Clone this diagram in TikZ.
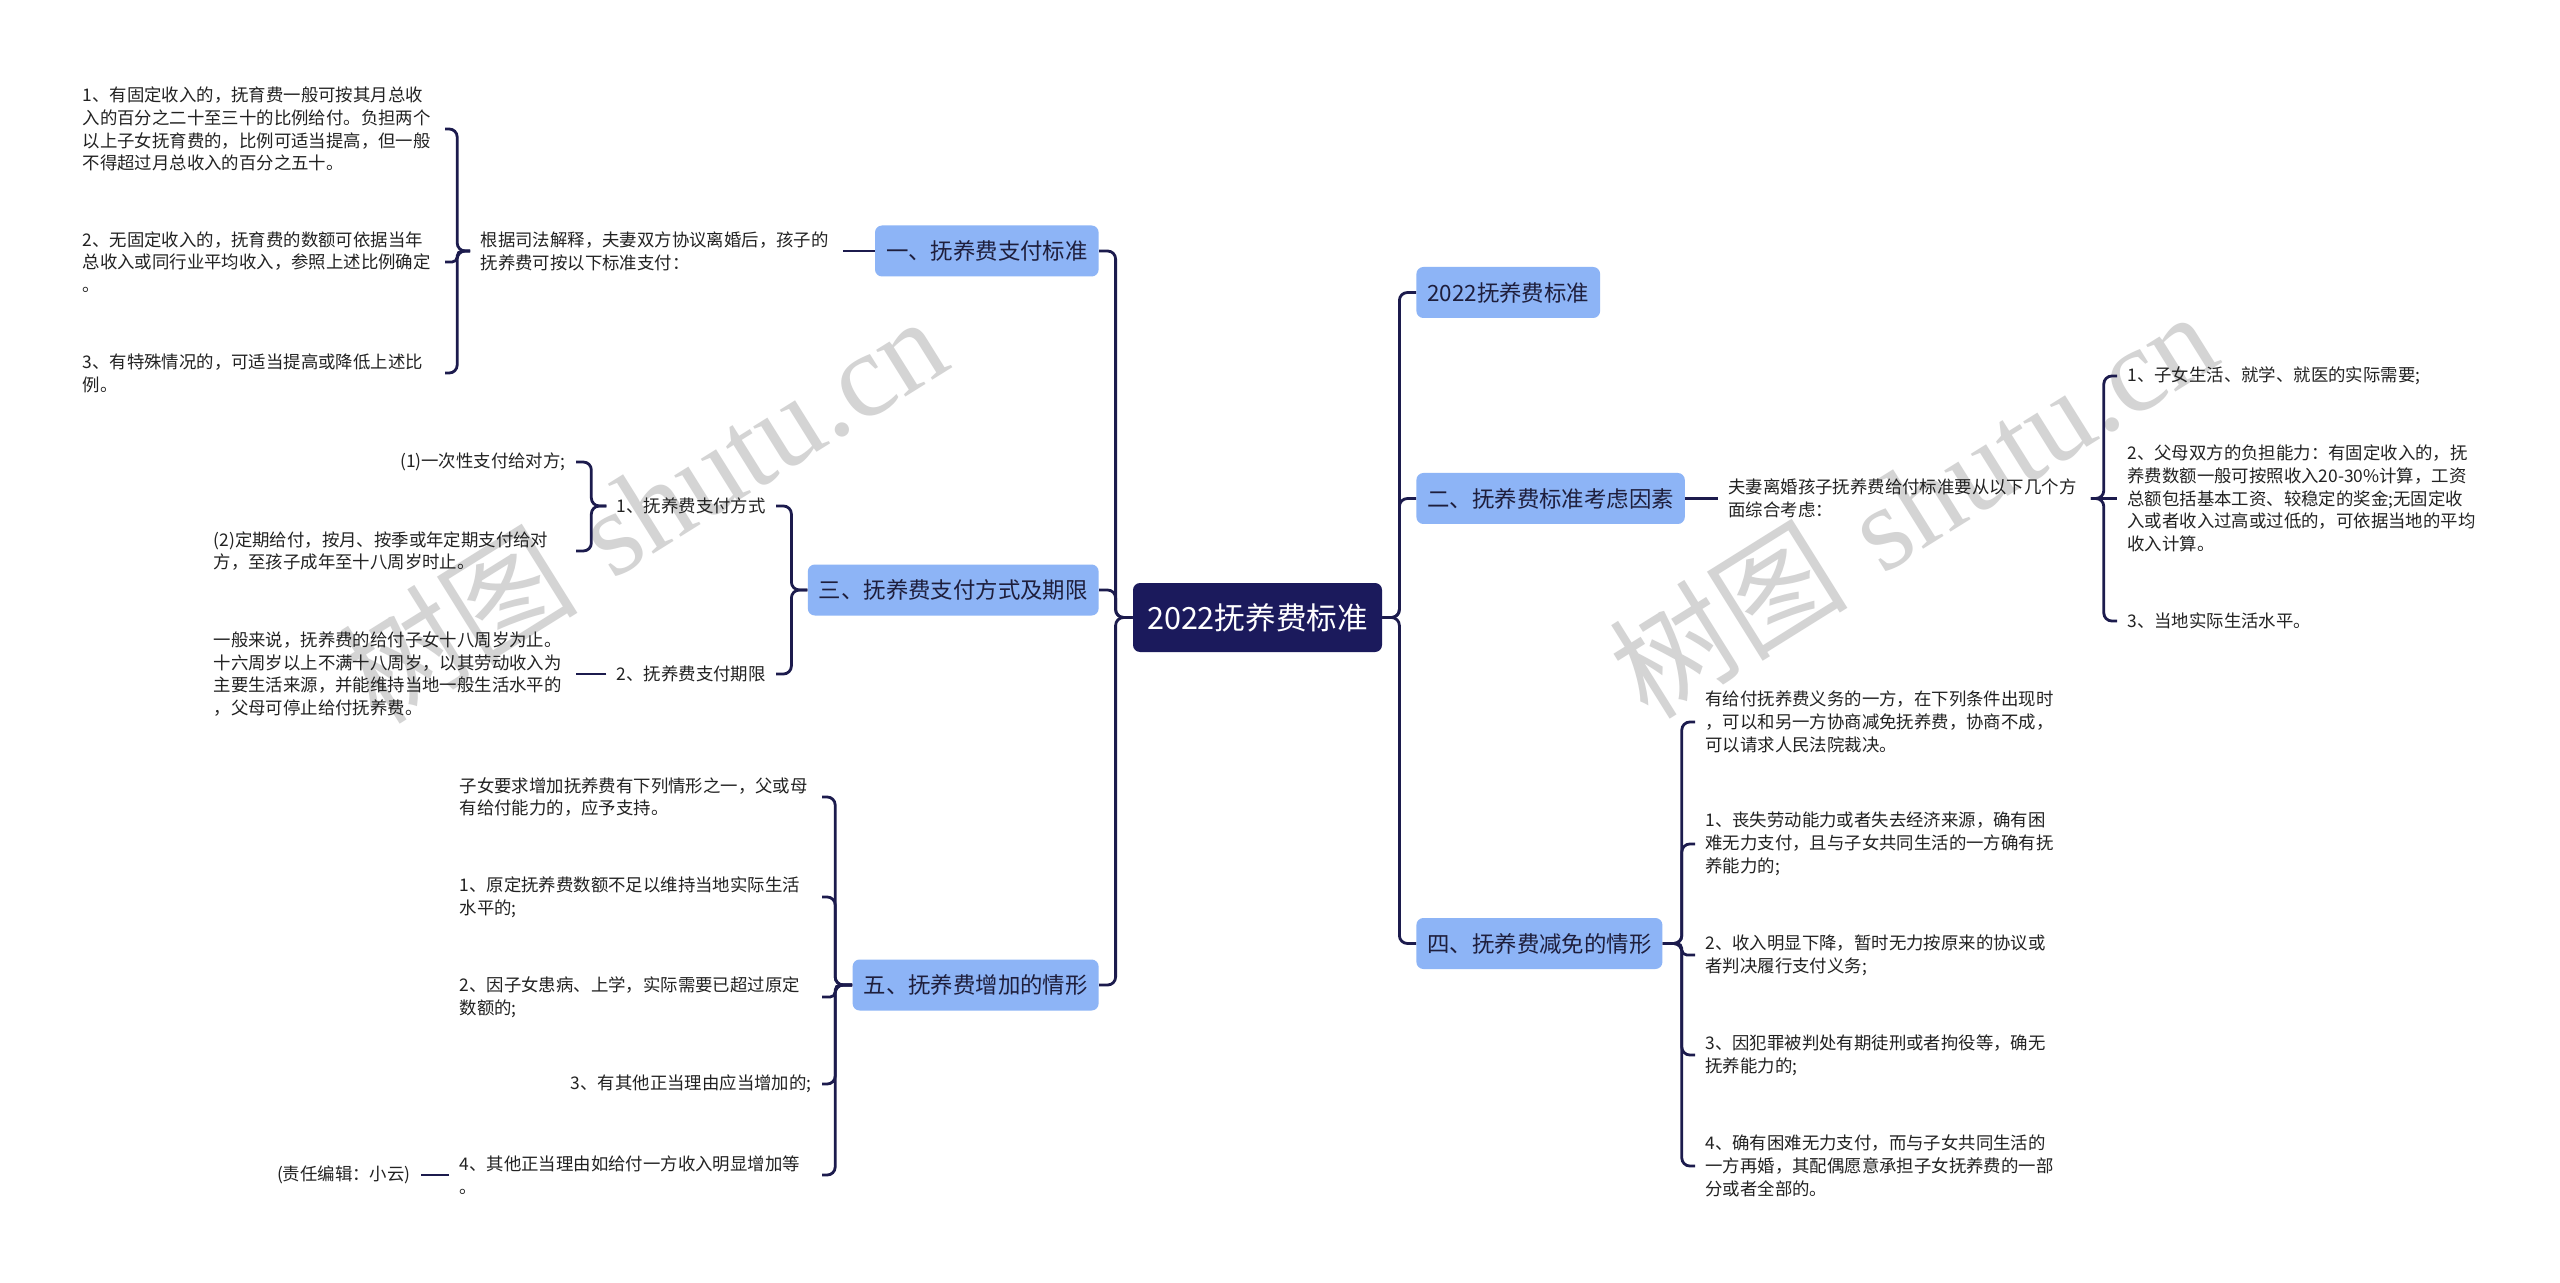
\documentclass[tikz,border=0pt]{standalone}
\usepackage{fontspec}
\newfontfamily\cjk{Noto Sans CJK SC}
\newfontfamily\wmserif{Liberation Serif}
\definecolor{linec}{HTML}{1C1B4D}
\definecolor{rootc}{HTML}{1B1A5C}
\definecolor{boxc}{HTML}{8DB4F6}
\definecolor{boxt}{HTML}{1E1E3C}
\definecolor{txtc}{HTML}{222222}
\definecolor{wmc}{HTML}{D4D4D4}
\tikzset{
  txt/.style={font=\cjk\fontsize{8.7pt}{11.4pt}\selectfont, text=txtc, inner xsep=5pt, inner ysep=1pt},
  wtxt/.style={txt, text width=176pt, align=left},
  box/.style={font=\cjk\fontsize{11.2pt}{13pt}\selectfont, fill=boxc, text=boxt, rounded corners=3.5pt, inner xsep=5.5pt, minimum height=25.5pt},
  rootbox/.style={font=\cjk\fontsize{15.3pt}{18pt}\selectfont, fill=rootc, text=white, rounded corners=3.5pt, minimum width=124.5pt, minimum height=34.5pt},
  conn/.style={draw=linec, line width=1.4pt, rounded corners=4pt},
  tight/.style={rounded corners=2.5pt},
  wm/.style={font=\fontsize{60pt}{60pt}\selectfont, text=wmc, rotate=32, inner sep=0pt}
}
\begin{document}
\begin{tikzpicture}[x=0.5pt,y=-0.5pt]
\fill[white] (0,0) rectangle (2560,1283);
\useasboundingbox (0,0) rectangle (2560,1283);

% watermarks
\node[wm] (w1) at (642,508) {{\cjk 树图} {\wmserif shutu.cn}};
\node[wm] (w2) at (1912,503) {{\cjk 树图} {\wmserif shutu.cn}};

% root and main branches
\node[rootbox] (root) at (1257.5,617.5) {2022抚养费标准};
\node[box, anchor=east] (b1) at (1099,251) {一、抚养费支付标准};
\node[box, anchor=east] (b3) at (1099,590) {三、抚养费支付方式及期限};
\node[box, anchor=east] (b5) at (1099,985) {五、抚养费增加的情形};
\node[box, anchor=west] (r1) at (1416,292.5) {2022抚养费标准};
\node[box, anchor=west] (r2) at (1416,498.5) {二、抚养费标准考虑因素};
\node[box, anchor=west] (r4) at (1416,943.5) {四、抚养费减免的情形};

\foreach \b in {b1,b3,b5} \draw[conn] (root.west) -- ++(-17,0) |- (\b.east);
\foreach \b in {r1,r2,r4} \draw[conn] (root.east) -- ++(17,0) |- (\b.west);

% group 1
\node[wtxt, anchor=east] (t1) at (843,251) {根据司法解释，夫妻双方协议离婚后，孩子的\\抚养费可按以下标准支付：};
\node[wtxt, anchor=east] (a1) at (445,129) {1、有固定收入的，抚育费一般可按其月总收\\入的百分之二十至三十的比例给付。负担两个\\以上子女抚育费的，比例可适当提高，但一般\\不得超过月总收入的百分之五十。};
\node[wtxt, anchor=east] (a2) at (445,262) {2、无固定收入的，抚育费的数额可依据当年\\总收入或同行业平均收入，参照上述比例确定\\。};
\node[wtxt, anchor=east] (a3) at (445,373) {3、有特殊情况的，可适当提高或降低上述比\\例。};
\draw[conn] (b1.west) -- (t1.east);
\draw[conn] (t1.west) -- ++(-13,0) |- (a1.east);
\draw[conn, tight] (t1.west) -- ++(-13,0) |- (a2.east);
\draw[conn] (t1.west) -- ++(-13,0) |- (a3.east);

% group 3 (三)
\node[txt, anchor=east] (m1) at (776,506) {1、抚养费支付方式};
\node[txt, anchor=east] (m2) at (776,674) {2、抚养费支付期限};
\node[txt, anchor=east] (p1) at (576,462) {(1)一次性支付给对方;};
\node[wtxt, anchor=east] (p2) at (576,551) {(2)定期给付，按月、按季或年定期支付给对\\方，至孩子成年至十八周岁时止。};
\node[wtxt, anchor=east] (q1) at (576,674) {一般来说，抚养费的给付子女十八周岁为止。\\十六周岁以上不满十八周岁，以其劳动收入为\\主要生活来源，并能维持当地一般生活水平的\\，父母可停止给付抚养费。};
\draw[conn] (b3.west) -- ++(-16,0) |- (m1.east);
\draw[conn] (b3.west) -- ++(-16,0) |- (m2.east);
\draw[conn] (m1.west) -- ++(-15,0) |- (p1.east);
\draw[conn] (m1.west) -- ++(-15,0) |- (p2.east);
\draw[conn] (m2.west) -- (q1.east);

% group 5 (五)
\node[wtxt, anchor=east] (c0) at (822,797) {子女要求增加抚养费有下列情形之一，父或母\\有给付能力的，应予支持。};
\node[wtxt, anchor=east] (c1) at (822,897) {1、原定抚养费数额不足以维持当地实际生活\\水平的;};
\node[wtxt, anchor=east] (c2) at (822,997) {2、因子女患病、上学，实际需要已超过原定\\数额的;};
\node[txt, anchor=east] (c3) at (822,1084) {3、有其他正当理由应当增加的;};
\node[wtxt, anchor=east] (c4) at (822,1175) {4、其他正当理由如给付一方收入明显增加等\\。};
\node[txt, anchor=east] (ed) at (421,1175) {(责任编辑：小云)};
\draw[conn] (b5.west) -- ++(-17,0) |- (c0.east);
\draw[conn] (b5.west) -- ++(-17,0) |- (c1.east);
\draw[conn, tight] (b5.west) -- ++(-17,0) |- (c2.east);
\draw[conn] (b5.west) -- ++(-17,0) |- (c3.east);
\draw[conn] (b5.west) -- ++(-17,0) |- (c4.east);
\draw[conn] (c4.west) -- (ed.east);

% group 二
\node[wtxt, anchor=west] (t2) at (1718,498.5) {夫妻离婚孩子抚养费给付标准要从以下几个方\\面综合考虑：};
\node[txt, anchor=west] (k1) at (2117,376) {1、子女生活、就学、就医的实际需要;};
\node[wtxt, anchor=west] (k2) at (2117,498.5) {2、父母双方的负担能力：有固定收入的，抚\\养费数额一般可按照收入20-30\%计算，工资\\总额包括基本工资、较稳定的奖金;无固定收\\入或者收入过高或过低的，可依据当地的平均\\收入计算。};
\node[txt, anchor=west] (k3) at (2117,621) {3、当地实际生活水平。};
\draw[conn] (r2.east) -- (t2.west);
\draw[conn] (t2.east) -- ++(13,0) |- (k1.west);
\draw[conn] (t2.east) -- (k2.west);
\draw[conn] (t2.east) -- ++(13,0) |- (k3.west);

% group 四
\node[wtxt, anchor=west] (d0) at (1695,722) {有给付抚养费义务的一方，在下列条件出现时\\，可以和另一方协商减免抚养费，协商不成，\\可以请求人民法院裁决。};
\node[wtxt, anchor=west] (d1) at (1695,844) {1、丧失劳动能力或者失去经济来源，确有困\\难无力支付，且与子女共同生活的一方确有抚\\养能力的;};
\node[wtxt, anchor=west] (d2) at (1695,955) {2、收入明显下降，暂时无力按原来的协议或\\者判决履行支付义务;};
\node[wtxt, anchor=west] (d3) at (1695,1055) {3、因犯罪被判处有期徒刑或者拘役等，确无\\抚养能力的;};
\node[wtxt, anchor=west] (d4) at (1695,1166) {4、确有困难无力支付，而与子女共同生活的\\一方再婚，其配偶愿意承担子女抚养费的一部\\分或者全部的。};
\draw[conn] (r4.east) -- ++(19,0) |- (d0.west);
\draw[conn] (r4.east) -- ++(19,0) |- (d1.west);
\draw[conn, tight] (r4.east) -- ++(19,0) |- (d2.west);
\draw[conn] (r4.east) -- ++(19,0) |- (d3.west);
\draw[conn] (r4.east) -- ++(19,0) |- (d4.west);
\end{tikzpicture}
\end{document}
